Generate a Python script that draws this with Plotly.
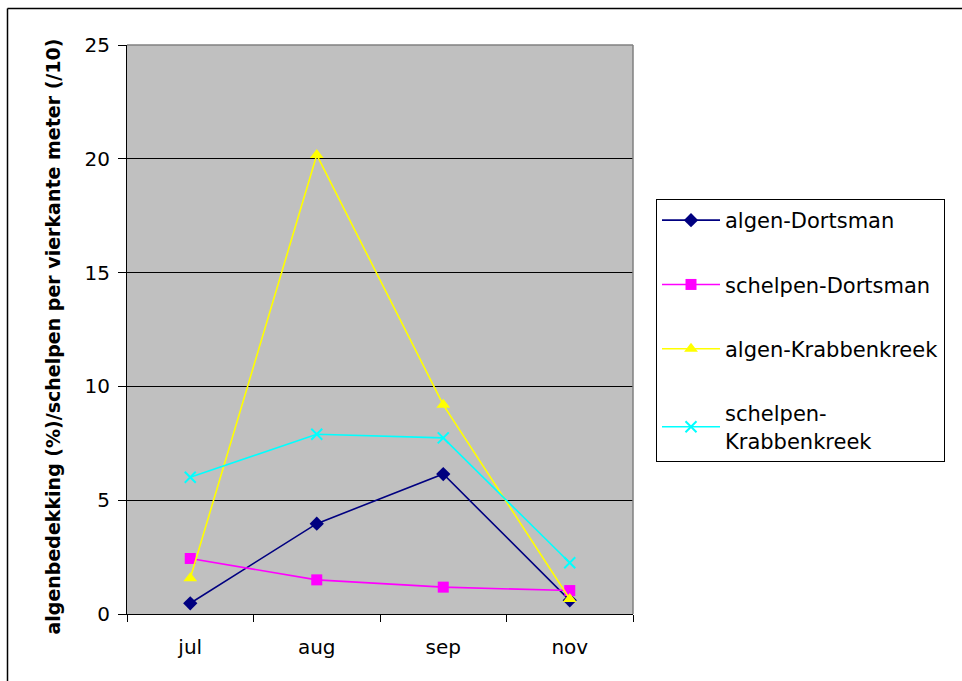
import plotly.graph_objects as go

months = ["jul", "aug", "sep", "nov"]
algen_dortsman = [0.47, 3.97, 6.15, 0.6]
schelpen_dortsman = [2.44, 1.5, 1.18, 1.03]
algen_krabbenkreek = [1.57, 20.17, 9.19, 0.66]
schelpen_krabbenkreek = [6.01, 7.9, 7.74, 2.25]
y_ticks = [0, 5, 10, 15, 20, 25]

FONT = "DejaVu Sans"

fig = go.Figure()
series = [
    ("algen-Dortsman", algen_dortsman, "#000080", "diamond", 11),
    ("schelpen-Dortsman", schelpen_dortsman, "#FF00FF", "square", 11),
    ("algen-Krabbenkreek", algen_krabbenkreek, "#FFFF00", "triangle-up", 12),
    ("schelpen-<br>Krabbenkreek", schelpen_krabbenkreek, "#00FFFF", "x-thin", 11),
]
for i, (name, vals, col, sym, sz) in enumerate(series):
    marker = dict(symbol=sym, size=sz, color=col)
    if sym == "x-thin":
        marker["line"] = dict(color=col, width=2)
    fig.add_trace(go.Scatter(
        x=months, y=vals, name=name, mode="lines+markers",
        line=dict(color=col, width=1.6), marker=marker,
        legendgroup=f"g{i}", cliponaxis=False,
    ))

L, R, T, B = 127, 633, 45, 614
W, H = 962, 681

def px(x):
    return (x - L) / (R - L)

def py(y):
    return (B - y) / (B - T)

fig.update_layout(
    width=W, height=H,
    margin=dict(l=L, r=W - R, t=T, b=H - B, autoexpand=False),
    paper_bgcolor="white", plot_bgcolor="#C0C0C0",
    font=dict(family=FONT, size=20, color="black"),
    showlegend=True,
    legend=dict(
        x=px(656), y=py(199), xanchor="left", yanchor="top",
        bgcolor="white", bordercolor="black", borderwidth=1,
        font=dict(family=FONT, size=21, color="black"),
        tracegroupgap=34, itemwidth=58, traceorder="grouped",
        entrywidth=245, entrywidthmode="pixels",
    ),
    xaxis=dict(
        type="category", range=[-0.5, 3.5], tickson="boundaries",
        ticks="outside", ticklen=7, tickcolor="black", showline=True,
        linecolor="black", linewidth=1, showgrid=False, zeroline=False,
        tickfont=dict(family=FONT, size=20), ticklabelstandoff=15,
    ),
    yaxis=dict(
        range=[0, 25], tickvals=y_ticks, ticks="outside", ticklen=8,
        tickcolor="black", showline=True, linecolor="black", linewidth=1,
        showgrid=True, gridcolor="black", gridwidth=1, zeroline=False,
        tickfont=dict(family=FONT, size=20), ticklabelstandoff=4,
    ),
    shapes=[
        dict(type="line", xref="paper", yref="paper", x0=px(127), x1=px(633),
             y0=1, y1=1, line=dict(color="#808080", width=1.5)),
        dict(type="line", xref="paper", yref="paper", x0=1, x1=1,
             y0=0, y1=1, line=dict(color="#808080", width=1.5)),
        dict(type="line", xref="paper", yref="paper", x0=px(7.5), x1=px(965),
             y0=py(8.5), y1=py(8.5), line=dict(color="black", width=1.5)),
        dict(type="line", xref="paper", yref="paper", x0=px(7.5), x1=px(7.5),
             y0=py(8.5), y1=py(690), line=dict(color="black", width=1.5)),
    ],
    annotations=[
        dict(text="<b>algenbedekking (%)/schelpen per vierkante meter (/10)</b>",
             xref="paper", yref="paper", x=px(52), y=py(336.5),
             xanchor="center", yanchor="middle", textangle=-90,
             showarrow=False, font=dict(family=FONT, size=19, color="black")),
    ],
)

fig.write_html(
    "out.html",
    config={"displayModeBar": False},
    post_script="document.body.style.margin='0';document.body.style.overflow='hidden';",
)
